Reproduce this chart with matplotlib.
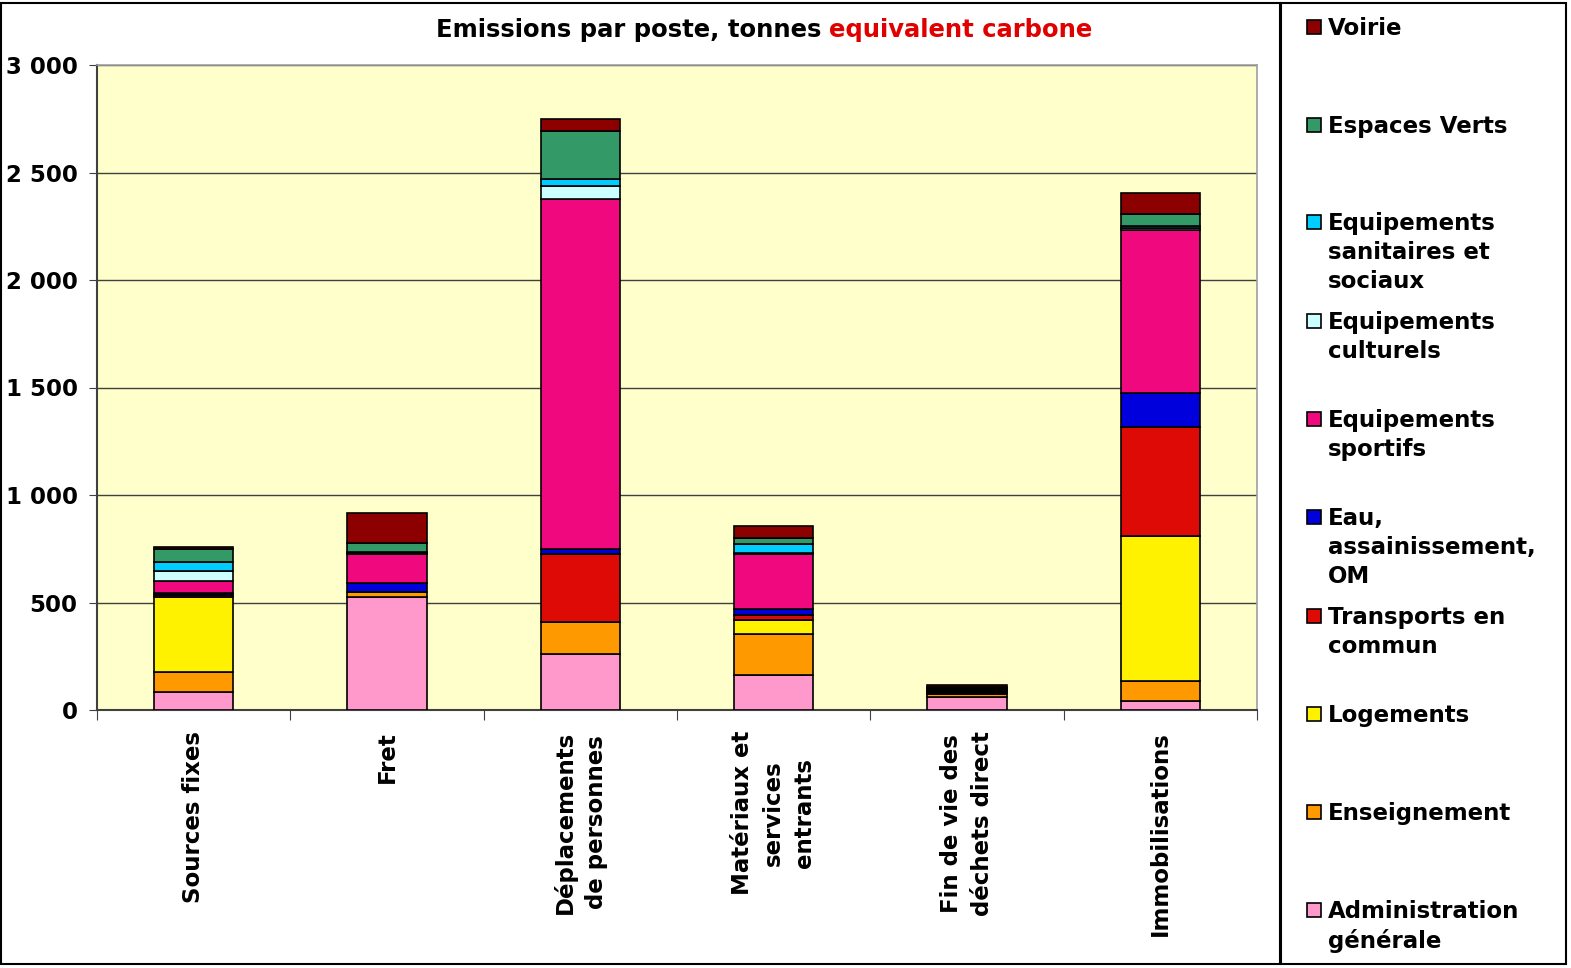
import numpy as np
import matplotlib.pyplot as plt
from matplotlib.patches import Rectangle
from matplotlib.ticker import FuncFormatter, FixedLocator

# postes (categories on x)
categories = ['Sources fixes', 'Fret', 'Déplacements\nde personnes',
              'Matériaux et\nservices\nentrants', 'Fin de vie des\ndéchets direct',
              'Immobilisations']

# tonnes equivalent carbone, per secteur (stacked bottom -> top)
administration = [85, 524, 260, 161, 60, 43]
enseignement = [92, 23, 151, 191, 16, 93]
logements = [348, 0, 0, 67, 4, 673]
transports = [8, 0, 315, 23, 4, 507]
eau = [10, 45, 24, 26, 5, 158]
sportifs = [57, 132, 1625, 258, 5, 759]
culturels = [48, 5, 64, 6, 4, 10]
sanitaires = [42, 8, 32, 40, 4, 8]
espaces_verts = [57, 38, 223, 26, 5, 54]
voirie = [13, 140, 53, 59, 8, 101]

series = [
    ('Administration\ngénérale', administration, '#FF99CC'),
    ('Enseignement', enseignement, '#FF9900'),
    ('Logements', logements, '#FFF200'),
    ('Transports en\ncommun', transports, '#DD0A06'),
    ('Eau,\nassainissement,\nOM', eau, '#0000DD'),
    ('Equipements\nsportifs', sportifs, '#F0087F'),
    ('Equipements\nculturels', culturels, '#CCFFFF'),
    ('Equipements\nsanitaires et\nsociaux', sanitaires, '#00CCFF'),
    ('Espaces Verts', espaces_verts, '#339966'),
    ('Voirie', voirie, '#8C0000'),
]

plt.rcParams['font.family'] = ['DejaVu Sans']
plt.rcParams['font.weight'] = 'bold'

fig = plt.figure(figsize=(15.71, 9.68), dpi=100)
W, H = 1571, 968

def fx(px):
    return px / W

def fy(py):
    return 1 - py / H

ax = fig.add_axes([fx(97), fy(710), fx(1257) - fx(97), fy(65) - fy(710)])
ax.set_facecolor('#FFFFCC')

x = np.arange(len(categories))
bottom = np.zeros(len(categories))
for name, vals, col in series:
    ax.bar(x, vals, width=0.41, bottom=bottom, color=col,
           edgecolor='black', linewidth=1.2, zorder=3)
    bottom += np.array(vals)

ax.set_xlim(-0.5, len(categories) - 0.5)
ax.set_ylim(0, 3000)
ax.set_yticks(np.arange(0, 3001, 500))
ax.yaxis.set_major_formatter(FuncFormatter(lambda v, p: f'{int(v):,}'.replace(',', ' ')))
ax.grid(axis='y', color='#404040', linewidth=1, zorder=1)
ax.set_axisbelow(True)

# ticks between categories, labels at centres
ax.xaxis.set_major_locator(FixedLocator(np.arange(-0.5, len(categories), 1)))
ax.xaxis.set_major_formatter(FuncFormatter(lambda v, p: ''))
ax.xaxis.set_minor_locator(FixedLocator(x))
ax.set_xticklabels(categories, minor=True, rotation=90, fontsize=16.5,
                   fontweight='bold', va='top', ha='center', linespacing=1.45)
ax.tick_params(axis='x', which='minor', length=0, pad=15)
ax.tick_params(axis='x', which='major', length=7, color='#404040', direction='out')
ax.tick_params(axis='y', length=6, color='#404040', labelsize=16.5, pad=8)
for lab in ax.get_yticklabels():
    lab.set_fontweight('bold')

for s in ['left', 'bottom']:
    ax.spines[s].set_color('#404040')
    ax.spines[s].set_linewidth(1.5)
for s in ['top', 'right']:
    ax.spines[s].set_color('#A0A0A0')
    ax.spines[s].set_linewidth(1.2)

# title in two colours
fig.text(fx(821), fy(30), 'Emissions par poste, tonnes', ha='right', va='center',
         fontsize=17.5, fontweight='bold', color='black')
fig.text(fx(829), fy(30), 'equivalent carbone', ha='left', va='center',
         fontsize=17.5, fontweight='bold', color='#E00000')

# frames
fig.patches.append(Rectangle((fx(1), fy(964)), fx(1280) - fx(1), fy(3) - fy(964),
                             transform=fig.transFigure, fill=False,
                             edgecolor='black', linewidth=1.5))
fig.patches.append(Rectangle((fx(1281), fy(964)), fx(1566) - fx(1281), fy(3) - fy(964),
                             transform=fig.transFigure, fill=False,
                             edgecolor='black', linewidth=1.5))

# legend, top entry = last series
legend_tops = [909, 811, 713, 615, 516, 418, 320, 221, 124, 26]
for (name, vals, col), ty in zip(series, legend_tops):
    fig.patches.append(Rectangle((fx(1307), fy(ty + 8)), fx(14), 14 / H,
                                 transform=fig.transFigure, facecolor=col,
                                 edgecolor='black', linewidth=1.2))
    fig.text(fx(1328), fy(ty - 9), name, ha='left', va='top', fontsize=16.5,
             fontweight='bold', linespacing=1.32)

fig.savefig('out.png', dpi=100)
